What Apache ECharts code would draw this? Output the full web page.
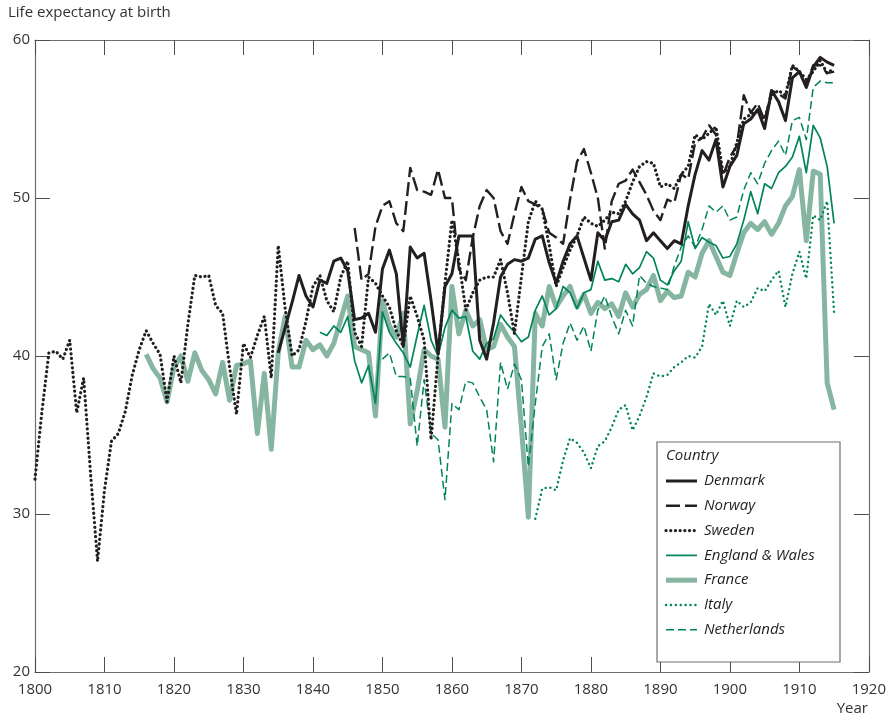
<!DOCTYPE html>
<html>
<head>
<meta charset="utf-8">
<script src="https://cdn.jsdelivr.net/npm/echarts@6/dist/echarts.min.js"></script>
<style>
  html, body { margin: 0; padding: 0; background: #fff; }
  #chart { width: 889px; height: 718px; }
</style>
</head>
<body>
<div id="chart"></div>
<script>
// ---- Data (life expectancy at birth, years) ----
const yTicks = [20, 30, 40, 50, 60];
const xTicks = [1800, 1810, 1820, 1830, 1840, 1850, 1860, 1870, 1880, 1890, 1900, 1910, 1920];

const denmarkStart = 1835;
const denmark = [40.2, 41.8, 43.4, 45.1, 43.8, 43.1, 44.8, 44.6, 46.0, 46.2,
  45.4, 42.3, 42.4, 42.7, 41.5, 45.5, 46.7, 45.2, 40.6, 46.9,
  46.2, 46.5, 43.5, 40.2, 44.4, 45.2, 47.6, 47.6, 47.6, 41.0,
  39.8, 42.1, 45.0, 45.8, 46.1, 46.0, 46.2, 47.4, 47.6, 45.9,
  44.6, 46.0, 47.1, 47.6, 46.2, 44.8, 47.8, 47.3, 48.5, 48.6,
  49.6, 49.0, 48.6, 47.3, 47.8, 47.3, 46.8, 47.3, 47.1, 49.5,
  51.5, 53.0, 52.4, 53.7, 50.7, 52.0, 52.7, 54.7, 55.0, 55.6,
  54.4, 56.8, 56.1, 54.9, 57.6, 58.0, 57.0, 58.3, 58.9, 58.6, 58.4];

const norwayStart = 1846;
const norway = [48.1, 44.8, 45.2, 48.2, 49.5, 49.8, 48.4, 47.9, 51.9, 50.5,
  50.4, 50.2, 51.8, 50.0, 50.0, 45.5, 44.8, 47.5, 49.5, 50.5,
  50.0, 47.9, 47.1, 49.0, 50.7, 49.8, 49.6, 49.3, 47.8, 47.5,
  47.1, 49.9, 52.3, 53.1, 51.6, 50.0, 46.8, 49.8, 50.9, 51.1,
  51.8, 51.0, 50.2, 49.2, 48.6, 49.9, 49.7, 51.5, 51.2, 53.5,
  53.8, 54.6, 54.0, 51.4, 52.6, 53.3, 56.5, 55.4, 56.0, 54.9,
  56.8, 56.6, 56.3, 58.3, 58.0, 57.2, 58.4, 58.4, 57.9, 58.0];

const swedenStart = 1800;
const sweden = [32.2, 36.5, 40.2, 40.3, 39.8, 41.0, 36.4, 38.6, 32.5, 27.0,
  31.5, 34.6, 35.1, 36.5, 38.8, 40.4, 41.6, 40.8, 40.1, 37.1,
  40.0, 38.3, 42.0, 45.1, 45.0, 45.1, 43.2, 42.7, 39.3, 36.3,
  40.8, 39.9, 41.3, 42.5, 38.6, 47.0, 43.0, 40.0, 40.4, 42.2,
  44.4, 45.1, 43.5, 42.8, 45.0, 46.0, 41.5, 40.6, 45.0, 44.6,
  43.8, 43.1, 41.6, 40.6, 43.8, 42.5, 41.0, 34.7, 40.0, 44.6,
  48.6, 46.0, 42.9, 44.0, 44.8, 45.0, 45.0, 46.1, 44.0, 41.4,
  45.0, 48.5, 49.8, 49.3, 47.0, 44.4, 45.6, 46.7, 47.6, 48.8,
  48.4, 48.2, 48.6, 49.1, 49.0, 49.8, 51.0, 52.0, 52.3, 52.2,
  50.7, 50.9, 50.6, 51.5, 52.0, 54.0, 53.7, 54.1, 54.5, 51.6,
  52.0, 53.5, 55.0, 55.3, 55.5, 55.0, 56.5, 56.8, 56.5, 58.4,
  58.0, 57.5, 58.0, 58.7, 57.9, 58.2];

const englandStart = 1841;
const england = [41.5, 41.3, 41.9, 41.5, 42.5, 39.7, 38.3, 39.4, 37.0, 42.8,
  41.5, 40.8, 40.2, 39.3, 41.3, 43.2, 41.0, 40.0, 41.8, 42.9,
  42.4, 42.5, 40.3, 39.8, 40.8, 41.1, 42.6, 42.0, 41.5, 40.9,
  41.2, 42.9, 43.8, 42.6, 43.0, 44.4, 44.0, 43.0, 44.0, 44.2,
  46.0, 44.8, 44.9, 44.7, 45.8, 45.2, 45.6, 46.6, 46.2, 44.8,
  44.5, 45.4, 46.0, 48.5, 46.8, 47.5, 47.2, 47.0, 46.2, 46.3,
  47.1, 48.6, 50.4, 49.0, 50.9, 50.6, 51.6, 52.0, 52.6, 53.9,
  51.6, 54.6, 53.8, 52.0, 48.4];

const franceStart = 1816;
const france = [40.1, 39.2, 38.6, 37.1, 39.3, 40.0, 38.4, 40.2, 39.1, 38.5,
  37.6, 39.6, 37.2, 39.4, 39.5, 39.7, 35.1, 38.9, 34.1, 40.2,
  42.5, 39.3, 39.3, 41.0, 40.4, 40.7, 40.0, 40.8, 42.3, 43.8,
  40.6, 40.4, 40.2, 36.2, 43.5, 41.9, 41.2, 42.7, 35.7, 37.8,
  40.4, 40.0, 39.8, 35.5, 44.4, 41.4, 42.9, 41.9, 42.3, 40.4,
  40.6, 42.0, 41.2, 40.6, 35.5, 29.8, 42.7, 41.9, 44.4, 43.1,
  43.8, 44.4, 43.1, 43.9, 42.7, 43.4, 43.0, 43.3, 42.5, 44.0,
  43.1, 43.9, 44.2, 45.1, 43.5, 44.1, 43.7, 43.8, 45.3, 45.0,
  46.5, 47.3, 46.3, 45.3, 45.1, 46.5, 47.8, 48.4, 48.0, 48.5,
  47.7, 48.4, 49.5, 50.1, 51.8, 47.3, 51.7, 51.5, 38.3, 36.6];

const italyStart = 1872;
const italy = [29.7, 31.6, 31.7, 31.5, 33.4, 34.8, 34.5, 33.9, 32.9, 34.3,
  34.6, 35.5, 36.6, 36.9, 35.3, 36.2, 37.4, 38.9, 38.7, 38.8,
  39.3, 39.6, 40.0, 39.9, 40.6, 43.3, 42.6, 43.5, 41.9, 43.5,
  43.1, 43.4, 44.3, 44.1, 44.8, 45.4, 43.1, 45.2, 46.6, 44.9,
  48.9, 48.6, 49.8, 42.7];

const netherlandsStart = 1850;
const netherlands = [39.8, 40.2, 38.7, 38.7, 38.6, 34.3, 38.5, 35.1, 34.7, 30.9,
  37.0, 36.6, 38.4, 38.3, 37.4, 36.6, 33.3, 39.6, 37.9, 39.5,
  38.5, 33.0, 37.0, 40.6, 41.4, 38.5, 40.8, 42.1, 41.0, 41.9,
  40.3, 42.9, 43.8, 42.5, 41.4, 42.9, 41.9, 45.1, 44.6, 44.4,
  44.3, 44.2, 45.7, 46.9, 47.6, 46.9, 48.0, 49.5, 49.1, 49.5,
  48.6, 48.8, 50.5, 51.6, 50.9, 52.2, 53.0, 53.6, 52.7, 54.9,
  55.1, 53.7, 57.0, 57.4, 57.3, 57.3];

const legendNames = ['Denmark', 'Norway', 'Sweden', 'England & Wales', 'France', 'Italy', 'Netherlands'];

// ---- Build ----
function pairs(start, arr) { return arr.map((v, i) => [start + i, v]); }

const BLACK = '#231f20';
const GREEN = '#00845a';
const PALE = '#86b6a1';
const AXIS = '#6d6e71';
const FONT = '"Open Sans", "Noto Sans", sans-serif';

const styles = {
  'Denmark': { color: BLACK, width: 3 },
  'Norway': { color: BLACK, width: 2.4, type: [14, 5] },
  'Sweden': { color: BLACK, width: 3.2, type: [0.1, 4.6], cap: 'round' },
  'England & Wales': { color: GREEN, width: 1.7 },
  'France': { color: PALE, width: 5 },
  'Italy': { color: GREEN, width: 2.4, type: [0.1, 4.8], cap: 'round' },
  'Netherlands': { color: GREEN, width: 1.5, type: [8, 4] }
};

function line(name, start, arr, z) {
  const ls = styles[name];
  return {
    name: name, type: 'line', data: pairs(start, arr),
    showSymbol: false, symbol: 'none', z: z,
    lineStyle: Object.assign({ join: 'round' }, ls),
    itemStyle: { color: ls.color },
    emphasis: { disabled: true }, silent: true
  };
}

const series = [
  line('France', franceStart, france, 2),
  line('Netherlands', netherlandsStart, netherlands, 3),
  line('Italy', italyStart, italy, 3),
  line('England & Wales', englandStart, england, 4),
  line('Sweden', swedenStart, sweden, 5),
  line('Norway', norwayStart, norway, 5),
  line('Denmark', denmarkStart, denmark, 6)
];

const xCommon = {
  type: 'value', min: xTicks[0], max: xTicks[xTicks.length - 1], interval: 10,
  axisLine: { show: true, lineStyle: { color: AXIS, width: 1.2 } },
  axisTick: { show: true, inside: true, length: 15, lineStyle: { color: '#4d4d4f', width: 1 } },
  splitLine: { show: false }
};
const yCommon = {
  type: 'value', min: yTicks[0], max: yTicks[yTicks.length - 1], interval: 10,
  axisLine: { show: true, lineStyle: { color: AXIS, width: 1.2 } },
  axisTick: { show: true, inside: true, length: 15, lineStyle: { color: '#4d4d4f', width: 1 } },
  splitLine: { show: false }
};

// Legend drawn as graphic elements (sample line + italic label), inside a framed box
const legendGraphics = [];
const legX = 666, legY0 = 481, legStep = 24.8;
legendNames.forEach((name, i) => {
  const ls = styles[name];
  const y = legY0 + i * legStep;
  legendGraphics.push({
    type: 'line', z: 10, silent: true,
    shape: { x1: legX, y1: y, x2: legX + 31, y2: y },
    style: { stroke: ls.color, lineWidth: ls.width, lineDash: ls.type || null, lineCap: ls.cap || 'butt' }
  });
  legendGraphics.push({
    type: 'text', z: 10, silent: true, x: legX + 38, y: y,
    style: { text: name, fontSize: 15, fontStyle: 'italic', fill: BLACK, fontFamily: FONT, textVerticalAlign: 'middle', verticalAlign: 'middle' }
  });
});

const chart = echarts.init(document.getElementById('chart'), null, { renderer: 'canvas' });
chart.setOption({
  animation: false,
  backgroundColor: '#fff',
  textStyle: { fontFamily: FONT },
  grid: { left: 35, right: 19, top: 40, bottom: 46, containLabel: false },
  xAxis: [
    Object.assign({}, xCommon, { position: 'bottom',
      axisLabel: { show: true, margin: 10, fontSize: 15, color: '#333', fontFamily: FONT,
        formatter: v => String(v) } }),
    Object.assign({}, xCommon, { position: 'top', axisLabel: { show: false } })
  ],
  yAxis: [
    Object.assign({}, yCommon, { position: 'left',
      axisLabel: { show: true, margin: 5, fontSize: 15, color: '#333', fontFamily: FONT } }),
    Object.assign({}, yCommon, { position: 'right', axisLabel: { show: false } })
  ],
  graphic: [
    { type: 'rect', shape: { x: 657, y: 442, width: 183, height: 220 },
      style: { fill: '#fff', stroke: AXIS, lineWidth: 1.2 }, z: 1, silent: true },
    { type: 'text', x: 666, y: 456, z: 10, silent: true,
      style: { text: 'Country', fontSize: 15, fontStyle: 'italic', fill: BLACK, fontFamily: FONT, textVerticalAlign: 'middle', verticalAlign: 'middle' } },
    { type: 'text', left: 8, top: 5, silent: true,
      style: { text: 'Life expectancy at birth', fontSize: 15, fill: '#333', fontFamily: FONT } },
    { type: 'text', x: 868, y: 709, silent: true,
      style: { text: 'Year', fontSize: 15, fill: '#333', fontFamily: FONT, align: 'right', textAlign: 'right', verticalAlign: 'middle', textVerticalAlign: 'middle' } }
  ].concat(legendGraphics),
  series: series
});
</script>
</body>
</html>
